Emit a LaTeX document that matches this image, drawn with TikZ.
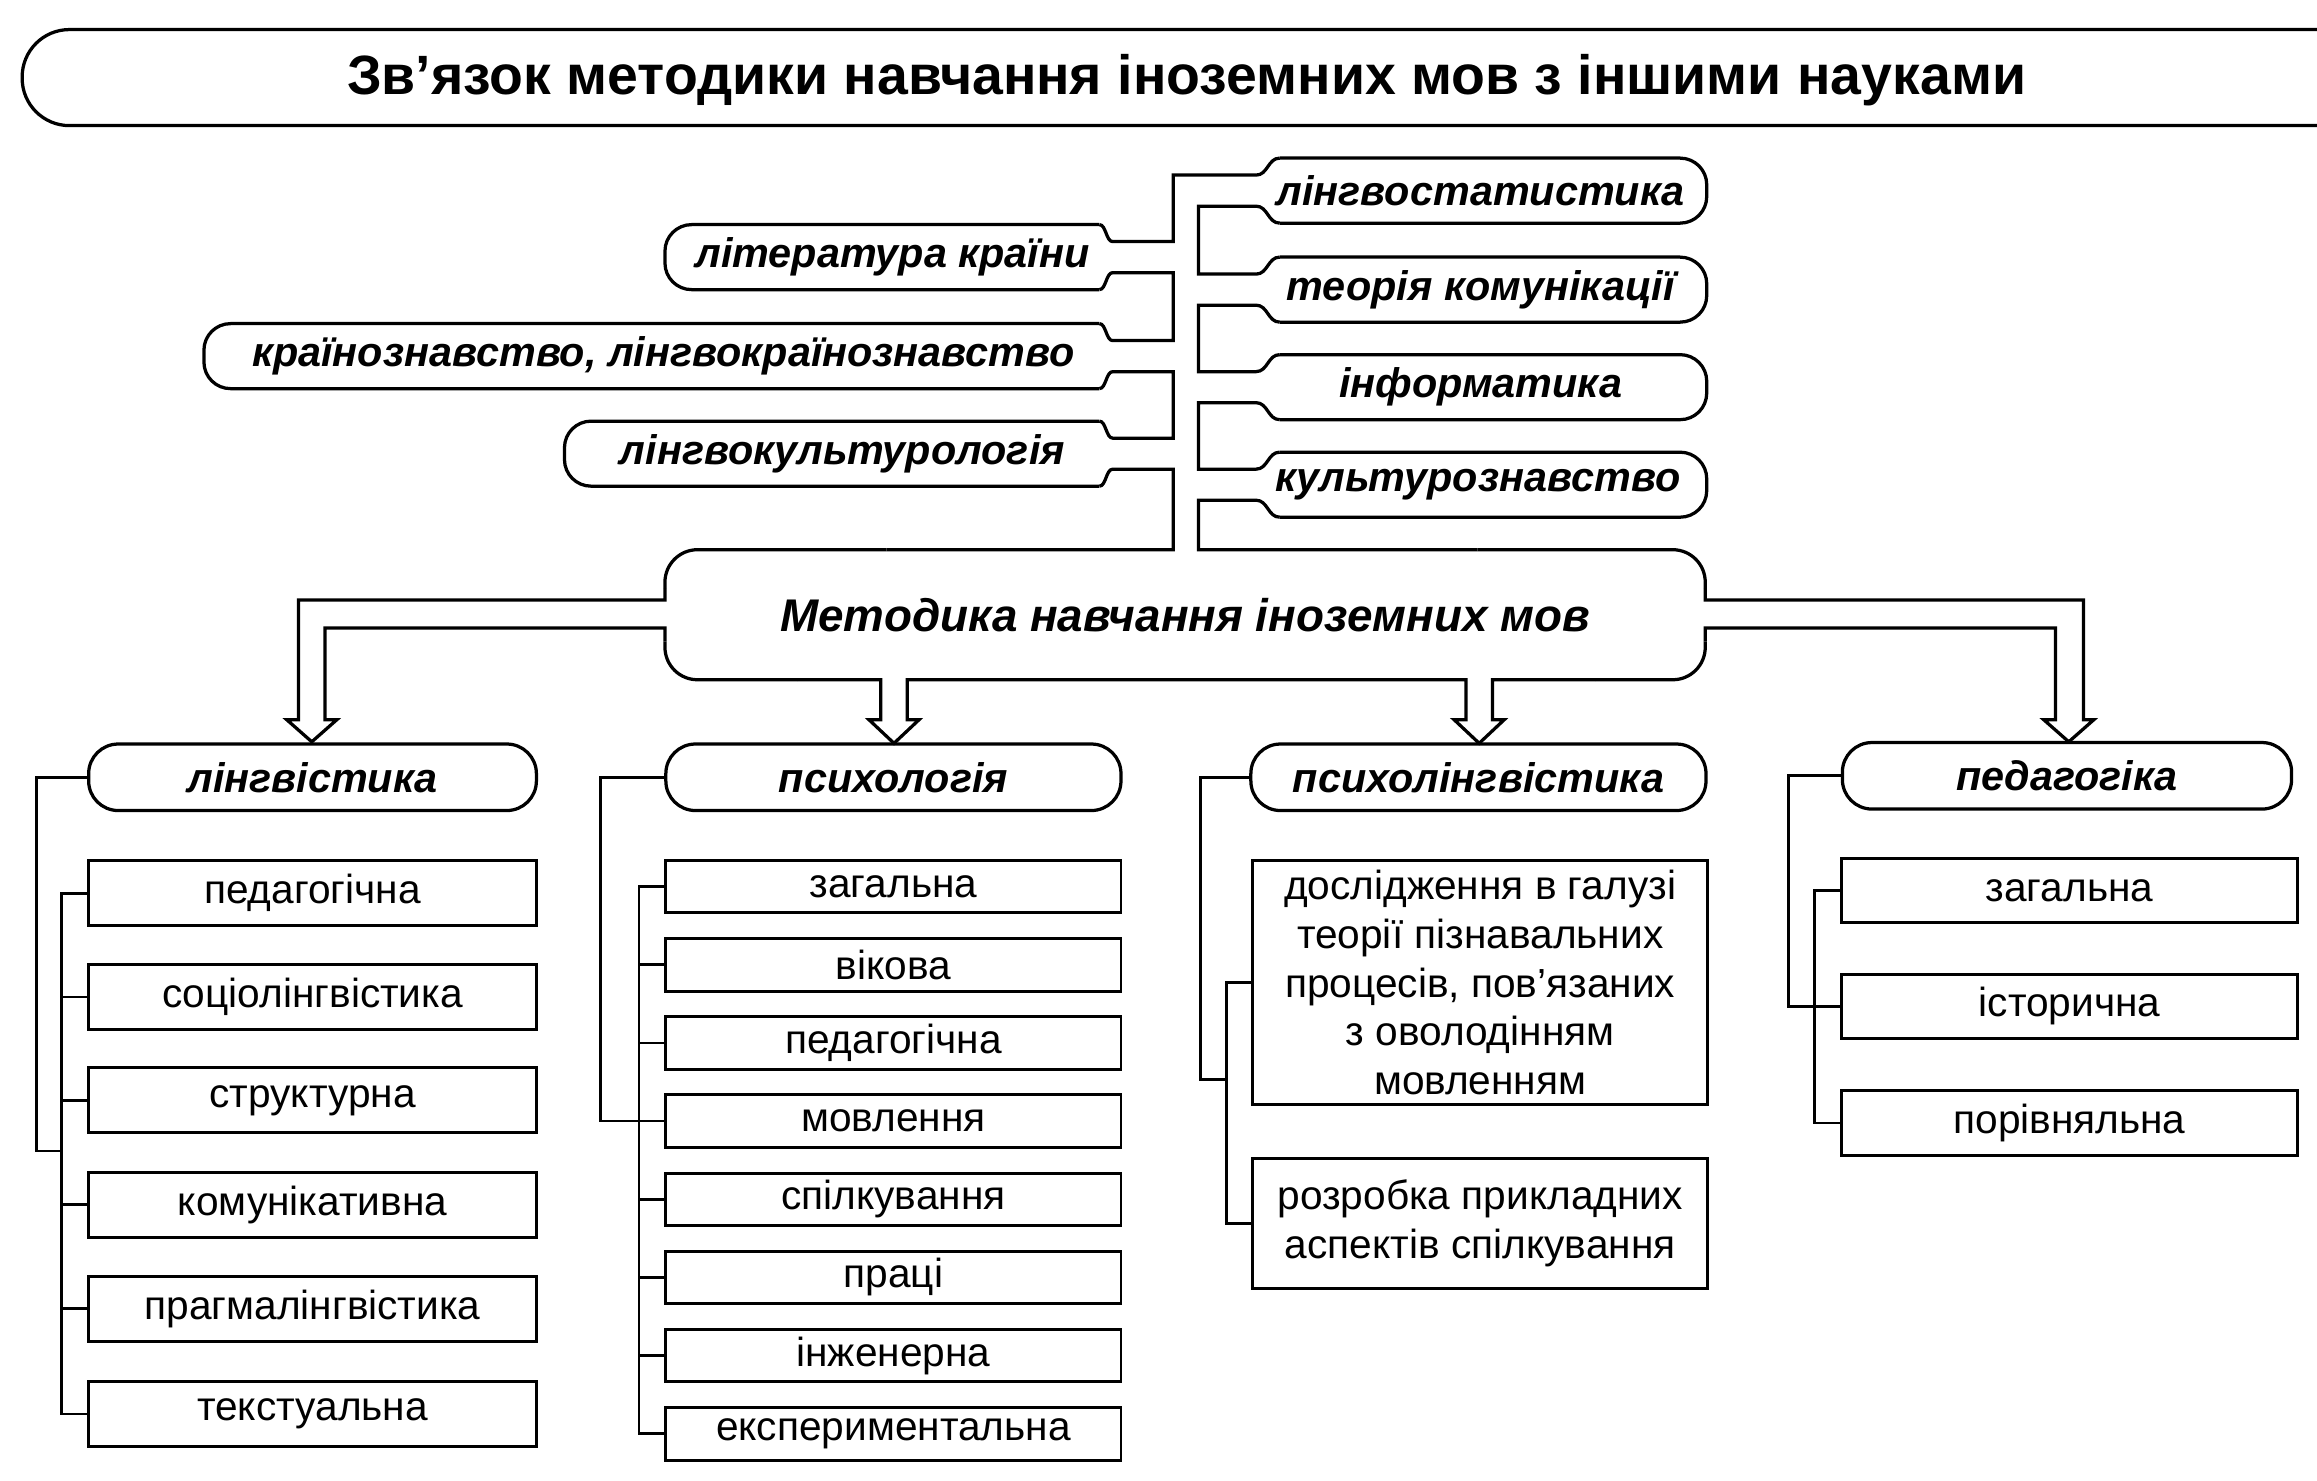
\documentclass[tikz,border=0pt]{standalone}
\usepackage{fontspec}
\setmainfont{Liberation Sans}
\begin{document}
\begin{tikzpicture}[x=1pt,y=-1pt]
\tikzset{
 ln/.style={line width=2.2pt},
 cn/.style={line width=1.8pt},
 lab/.style={inner sep=0pt, font=\fontsize{28}{30}\selectfont\bfseries\itshape},
 hdr/.style={draw, line width=2.2pt, rounded corners=20pt, minimum height=45pt, inner sep=0pt, font=\fontsize{28}{30}\selectfont\bfseries\itshape},
 bx/.style={draw, line width=2pt, inner sep=0pt, font=\fontsize{27.5}{33}\selectfont, align=center},
}
\useasboundingbox (0,0) rectangle (1568,1002);

% title
\draw[ln, rounded corners=32pt] (1575,20) -- (15,20) -- (15,85) -- (1575,85);
\node[anchor=base, inner sep=0pt, font=\fontsize{37.5}{40}\selectfont\bfseries] (title) at (803,64) {Зв'язок методики навчання іноземних мов з іншими науками};

% top ribbon: rounded ends of right nodes
\foreach \yy in {129,196,262,328}
  \draw[ln, rounded corners=18pt] (866,\yy-22) -- (1155,\yy-22) -- (1155,\yy+22) -- (866,\yy+22);
% rounded ends of left nodes
\foreach \yy/\xx in {174/450,241/138,307/382}
  \draw[ln, rounded corners=18pt] (744,\yy-22) -- (\xx,\yy-22) -- (\xx,\yy+22) -- (744,\yy+22);

% right spine
\draw[ln] (1000,372) -- (811,372) -- (811,338.5) -- (850,338.5) .. controls (858,338.5) and (858,350) .. (866,350);
\draw[ln] (866,306) .. controls (858,306) and (858,317.5) .. (850,317.5) -- (811,317.5) -- (811,272.5) -- (850,272.5) .. controls (858,272.5) and (858,284) .. (866,284);
\draw[ln] (866,240) .. controls (858,240) and (858,251.5) .. (850,251.5) -- (811,251.5) -- (811,206.5) -- (850,206.5) .. controls (858,206.5) and (858,218) .. (866,218);
\draw[ln] (866,174) .. controls (858,174) and (858,185.5) .. (850,185.5) -- (811,185.5) -- (811,139.5) -- (850,139.5) .. controls (858,139.5) and (858,151) .. (866,151);
% joint at top and left spine
\draw[ln] (866,107) .. controls (858,107) and (858,118.5) .. (850,118.5) -- (794,118.5) -- (794,163.5) -- (753,163.5) .. controls (748.5,163.5) and (748.5,152) .. (744,152);
\draw[ln] (744,196) .. controls (748.5,196) and (748.5,184.5) .. (753,184.5) -- (794,184.5) -- (794,230.5) -- (753,230.5) .. controls (748.5,230.5) and (748.5,219) .. (744,219);
\draw[ln] (744,263) .. controls (748.5,263) and (748.5,251.5) .. (753,251.5) -- (794,251.5) -- (794,296.5) -- (753,296.5) .. controls (748.5,296.5) and (748.5,285) .. (744,285);
\draw[ln] (744,329) .. controls (748.5,329) and (748.5,317.5) .. (753,317.5) -- (794,317.5) -- (794,372) -- (600,372);

% central node outline with hollow arrows
\draw[ln, rounded corners=22pt] (600,372) -- (450,372) -- (450,398);
\draw[ln] (450,398) -- (450,406) -- (202,406) -- (202,487) -- (194,487) -- (211,502) -- (228,487) -- (220,487) -- (220,425) -- (450,425) -- (450,434);
\draw[ln, rounded corners=22pt] (450,434) -- (450,460) -- (540,460);
\draw[ln] (540,460) -- (596,460) -- (596,487) -- (588,487) -- (605,503) -- (622,487) -- (614,487) -- (614,460) -- (992,460) -- (992,487) -- (984,487) -- (1001,503) -- (1018,487) -- (1010,487) -- (1010,460) -- (1080,460);
\draw[ln, rounded corners=22pt] (1080,460) -- (1154,460) -- (1154,434);
\draw[ln] (1154,434) -- (1154,425) -- (1391,425) -- (1391,487) -- (1383,487) -- (1400,502) -- (1417,487) -- (1410,487) -- (1410,406) -- (1154,406) -- (1154,398);
\draw[ln, rounded corners=22pt] (1154,398) -- (1154,372) -- (1000,372);

% top labels
\node[lab] (lstat) at (1002,129) {лінгвостатистика};
\node[lab] (tkom) at (1002,196) {теорія комунікації};
\node[lab] (inf) at (1002,262) {інформатика};
\node[lab] (kult) at (1000,328) {культурознавство};
\node[lab] (lit) at (604,174) {література країни};
\node[lab] (krain) at (449,241) {країнознавство, лінгвокраїнознавство};
\node[lab] (lkult) at (570,307) {лінгвокультурологія};
\node[inner sep=0pt, font=\fontsize{31}{33}\selectfont\bfseries\itshape] (central) at (802,416) {Методика навчання іноземних мов};

% headers
\node[hdr, minimum width=303pt] (H1) at (211.5,526) {лінгвістика};
\node[hdr, minimum width=308pt] (H2) at (604.6,526) {психологія};
\node[hdr, minimum width=308pt] (H3) at (1000.5,526) {психолінгвістика};
\node[hdr, minimum width=304pt] (H4) at (1398.8,525) {педагогіка};

% column 1
\begin{scope}[every node/.style={bx, minimum width=303pt, minimum height=44pt}]
\node (a1) at (211.5,604.5) {педагогічна};
\node (a2) at (211.5,674.7) {соціолінгвістика};
\node (a3) at (211.5,744.7) {структурна};
\node (a4) at (211.5,815.2) {комунікативна};
\node (a5) at (211.5,885.7) {прагмалінгвістика};
\node (a6) at (211.5,957) {текстуальна};
\end{scope}
% column 2
\begin{scope}[every node/.style={bx, minimum width=308pt, minimum height=35.5pt}]
\node (b1) at (604.6,600) {загальна};
\node (b2) at (604.6,652.9) {вікова};
\node (b3) at (604.6,705.8) {педагогічна};
\node (b4) at (604.6,758.7) {мовлення};
\node (b5) at (604.6,811.6) {спілкування};
\node (b6) at (604.6,864.5) {праці};
\node (b7) at (604.6,917.4) {інженерна};
\node (b8) at (604.6,970.3) {експериментальна};
\end{scope}
% column 3
\node[bx, minimum width=308pt, minimum height=165pt] (c1) at (1001.7,665) {дослідження в галузі\\теорії пізнавальних\\процесів, пов’язаних\\з оволодінням\\мовленням};
\node[bx, minimum width=308pt, minimum height=88pt] (c2) at (1001.7,827.8) {розробка прикладних\\аспектів спілкування};
% column 4
\begin{scope}[every node/.style={bx, minimum width=308pt, minimum height=43.5pt}]
\node (d1) at (1400.5,602.7) {загальна};
\node (d2) at (1400.5,681) {історична};
\node (d3) at (1400.5,760) {порівняльна};
\end{scope}

% column connectors
\coordinate (s1) at (41.4,779);
\coordinate (o1) at (24.9,779);
\draw[cn] (a1.west) -- (a1.west -| s1) -- (a6.west -| s1) -- (a6.west);
\foreach \n in {a2,a3,a4,a5} \draw[cn] (\n.west) -- (\n.west -| s1);
\draw[cn] (H1.west) -- (H1.west -| o1) -- (o1) -- (s1);

\coordinate (s2) at (432.4,0);
\coordinate (o2) at (406.5,0);
\draw[cn] (b1.west) -- (b1.west -| s2) -- (b8.west -| s2) -- (b8.west);
\foreach \n in {b2,b3,b4,b5,b6,b7} \draw[cn] (\n.west) -- (\n.west -| s2);
\draw[cn] (H2.west) -- (H2.west -| o2) -- (b4.west -| o2) -- (b4.west -| s2);

\coordinate (s3) at (830,730.7);
\coordinate (o3) at (812.4,730.7);
\draw[cn] (c1.west) -- (c1.west -| s3) -- (c2.west -| s3) -- (c2.west);
\draw[cn] (H3.west) -- (H3.west -| o3) -- (o3) -- (s3);

\coordinate (s4) at (1227.8,0);
\coordinate (o4) at (1210.2,0);
\draw[cn] (d1.west) -- (d1.west -| s4) -- (d3.west -| s4) -- (d3.west);
\draw[cn] (d2.west) -- (d2.west -| s4);
\draw[cn] (H4.west) -- (H4.west -| o4) -- (d2.west -| o4) -- (d2.west -| s4);
\end{tikzpicture}
\end{document}
